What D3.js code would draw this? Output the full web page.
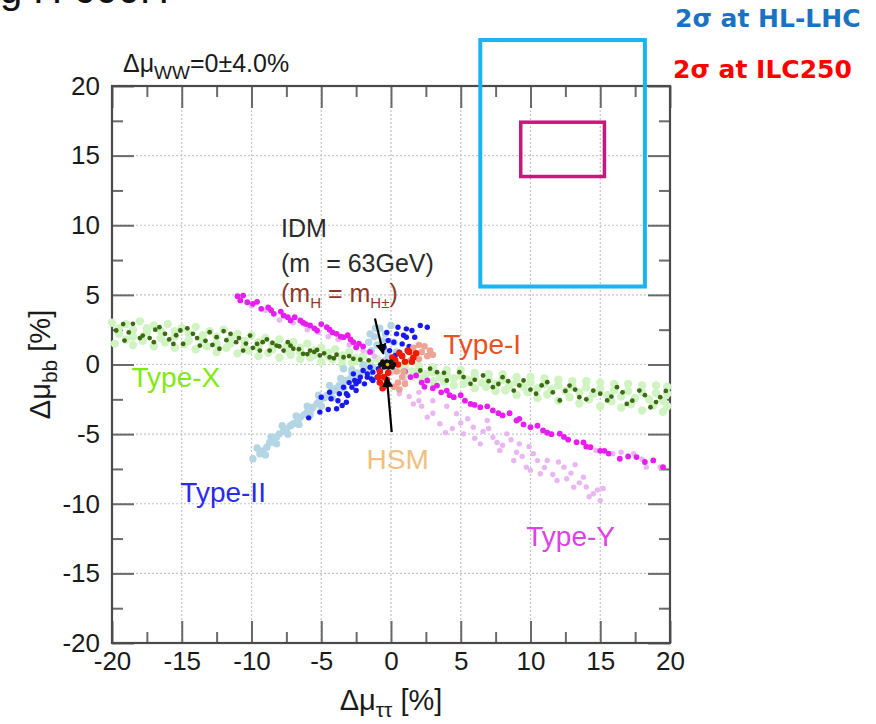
<!DOCTYPE html>
<html>
<head>
<meta charset="utf-8">
<script src="https://cdn.jsdelivr.net/npm/d3@7"></script>
<style>
  html, body { margin: 0; padding: 0; background: #fff; }
  svg { display: block; font-family: "Liberation Sans", Arial, Helvetica, sans-serif; }
</style>
</head>
<body>
<svg id="chart" width="876" height="724"></svg>
<script>
// Axis ticks (percent deviations)
const xTicks = [-20, -15, -10, -5, 0, 5, 10, 15, 20];
const yTicks = [-20, -15, -10, -5, 0, 5, 10, 15, 20];
const minorTicks = [-17.5, -12.5, -7.5, -2.5, 2.5, 7.5, 12.5, 17.5];

// 2-sigma boxes: [xMin, xMax, yMin, yMax]
const hlLhcBox = [6.4, 18.2, 5.6, 23.3];
const ilcBox = [9.3, 15.3, 13.5, 17.4];

// Type-X scan (light: full scan, dark: subset)
const typeXLight = [
  [-20,3.0],[-19,2.9],[-18,3.1],[-17,2.8],[-16,2.9],[-15,2.6],[-14,2.7],[-13,2.4],[-12,2.5],[-11,2.2],
  [-10,2.1],[-9,1.9],[-8,1.8],[-7,1.6],[-6,1.5],[-5,1.2],[-4,1.1],[-3,0.9],[-2,0.6],[-1,0.4],
  [0,0.2],[1,0.0],[2,-0.1],[3,-0.2],[4,-0.4],[5,-0.4],[6,-0.6],[7,-0.7],[8,-0.7],[9,-0.9],
  [10,-0.9],[11,-1.0],[12,-1.1],[13,-1.2],[14,-1.2],[15,-1.3],[16,-1.4],[17,-1.4],[18,-1.5],[19,-1.5],[19.8,-1.6],
  [-19.5,2.6],[-18.5,2.5],[-17.5,2.6],[-16.5,2.4],[-15.5,2.4],[-14.5,2.2],[-13.5,2.1],[-12.5,2.0],[-11.5,1.9],
  [-10.5,1.7],[-9.5,1.6],[-8.5,1.45],[-7.5,1.3],[-6.5,1.2],[-5.5,1.0],[-4.5,0.85],[-3.5,0.65],[-2.5,0.45],
  [1.0,-0.3],[2.0,-0.4],[3.0,-0.55],[4.0,-0.7],[5.0,-0.8],[6.0,-0.95],[7.0,-1.05],[8.0,-1.1],[9.0,-1.25],
  [10.0,-1.3],[11.0,-1.4],[12.0,-1.5],[13.0,-1.6],[14.0,-1.65],[15.0,-1.75],[16.0,-1.85],[17.0,-1.9],
  [18.0,-2.0],[19.0,-2.05],[19.8,-2.1],
  [-19.5,2.2],[-18.5,2.0],[-17.5,2.3],[-16.5,1.9],[-15.5,2.0],[-14.5,1.7],[-13.5,1.8],[-12.5,1.5],[-11.5,1.5],
  [-10.5,1.3],[-9.5,1.2],[-8.5,1.1],[-7.5,1.0],[-6.5,0.9],[-5.5,0.7],[-4.5,0.6],[-3.5,0.4],[-2.5,0.3],[-1.5,0.1],
  [0.5,-0.4],[1.5,-0.5],[2.5,-0.7],[3.5,-0.9],[4.5,-1.0],[5.5,-1.1],[6.5,-1.3],[7.5,-1.4],[8.5,-1.5],[9.5,-1.6],
  [10.5,-1.7],[11.5,-1.8],[12.5,-1.9],[13.5,-2.0],[14.5,-2.1],[15.5,-2.2],[16.5,-2.3],[17.5,-2.4],[18.5,-2.5],[19.5,-2.6],
  [-19,1.8],[-17.8,1.7],[-16.2,1.6],[-14.8,1.45],[-13.2,1.3],[-11.8,1.2],[-10.2,1.0],[-8.8,0.85],[-7.2,0.7],
  [-5.8,0.5],[-4.2,0.35],[-2.8,0.1],[1.0,-0.7],[2.2,-1.0],[3.8,-1.2],[5.2,-1.4],[6.8,-1.6],[8.2,-1.85],
  [9.8,-2.0],[11.2,-2.15],[12.8,-2.35],[14.2,-2.5],[15.8,-2.65],[17.2,-2.85],[18.8,-2.95],[19.8,-3.0],
  [-19.8,1.5],[-18.5,1.4],[-17,1.3],[-15.5,1.2],[-14,1.1],[-12.5,0.9],[-11,0.8],[-9.5,0.6],[-8,0.5],[-6.5,0.4],
  [-5,0.2],[-3.5,0.0],[-2,-0.1],[0,-0.5],[1.5,-0.9],[3,-1.2],[4.5,-1.5],[6,-1.7],[7.5,-1.9],[9,-2.2],
  [10.5,-2.4],[12,-2.6],[13.5,-2.8],[15,-3.0],[16.5,-3.1],[18,-3.3],[19.5,-3.4]
];
const typeXDark = [
  [-19.7,2.44],[-19.1,1.72],[-18.5,2.92],[-17.8,2.08],[-17.0,1.6],[-16.6,2.68],[-16.2,2.2],[-15.6,1.48],
  [-15.1,2.44],[-14.9,1.48],[-14.2,2.2],[-13.7,1.36],[-13.0,2.32],[-12.5,1.96],[-12.3,1.13],[-11.5,2.2],
  [-11.1,1.6],[-10.6,1.0],[-10.1,2.08],[-9.6,1.48],[-9.2,1.6],[-8.7,1.0],[-8.2,1.36],[-7.7,1.0],[-7.0,1.13],
  [-6.3,0.77],[-5.8,1.0],[-5.1,0.65],[-4.4,0.52],[-3.4,0.52],[-2.7,0.41],
  [-19.2,2.9],[-18.0,1.9],[-16.9,2.5],[-15.9,1.8],[-14.6,2.6],[-13.3,1.7],[-12.0,2.4],[-10.9,1.9],[-9.9,1.2],
  [-8.9,1.8],[-8.0,1.3],[-7.4,1.6],[-6.6,1.1],[-5.5,0.9],[-4.8,0.8],[-3.9,0.7],[-2.2,0.35],[-1.6,0.3],
  [-18.8,2.3],[-17.3,1.9],[-15.4,2.1],[-13.9,1.9],[-12.8,1.4],[-11.8,1.75],[-10.4,1.5],[-9.4,1.0],
  [-8.5,1.55],[-7.2,1.35],[-6.0,0.75],[-5.3,1.05],[-4.1,0.45],[-3.0,0.6],
  [2.1,-0.43],[3.3,-0.55],[4.0,-1.15],[4.9,-0.55],[5.7,-1.39],[6.6,-0.79],[7.3,-1.63],[8.0,-0.91],[8.8,-1.87],
  [9.5,-1.15],[10.4,-2.1],[11.2,-1.27],[12.1,-2.58],[12.8,-1.51],[13.5,-2.35],[14.5,-1.87],[15.5,-2.58],
  [16.2,-1.63],[16.9,-2.83],[17.8,-1.87],[18.6,-3.07],[19.3,-2.35],
  [2.8,-0.3],[3.8,-0.6],[5.2,-0.9],[6.0,-1.1],[7.0,-1.2],[7.7,-1.4],[8.4,-1.2],[9.2,-1.5],[10.0,-1.8],
  [10.8,-1.5],[11.6,-2.0],[12.5,-1.9],[13.2,-1.8],[14.0,-2.5],[15.0,-2.1],[15.8,-2.3],[16.6,-2.0],[17.3,-2.6],
  [18.2,-2.2],[19.0,-2.7],[19.7,-1.9]
];

// Type-Y scan
const typeYLight = [
  [-10.0,4.2],[-8.0,3.2],[-6.0,2.5],[-4.5,2.0],[-3.0,1.4],[-2.0,1.0],[-1.2,0.6],[-0.5,0.3],[0.0,-0.6],
  [0.4,-1.5],[1.0,-1.2],[1.3,-2.3],[2.0,-2.0],[2.2,-3.0],[3.0,-2.6],[0.6,-2.1],[1.6,-2.83],[2.6,-3.78],
  [3.5,-4.26],[4.7,-3.54],[5.2,-4.98],[5.9,-4.5],[6.4,-5.7],[6.9,-4.02],[7.3,-5.22],[7.8,-6.17],[8.3,-4.98],
  [8.8,-6.89],[9.2,-5.7],[9.7,-7.37],[10.2,-6.41],[10.7,-7.85],[11.2,-6.89],[11.9,-8.33],[12.4,-7.37],
  [13.1,-8.81],[13.8,-8.09],[14.5,-9.28],[15.0,-9.76],[14.7,-6.17],[15.9,-6.41],[17.4,-6.41],[18.3,-7.37],
  [19.3,-7.37],[4.0,-3.0],[4.4,-4.6],[5.5,-3.9],[6.0,-5.3],[7.0,-4.6],[7.6,-5.6],[8.6,-5.4],[9.0,-6.3],
  [9.9,-5.9],[10.5,-6.9],[11.0,-7.4],[11.6,-7.9],[12.0,-7.0],[12.9,-7.8],[13.5,-8.5],[14.0,-8.8],[14.8,-9.0],
  [3.0,-3.5],[2.0,-2.6],[16.5,-6.3],[18.0,-6.8],
  [-9.0,3.9],[-7.0,3.0],[-5.2,2.3],[-3.8,1.8],[-2.5,1.2],[-1.6,0.9],[3.9,-4.9],[5.0,-4.2],[6.6,-4.8],
  [8.0,-5.8],[9.4,-6.6],[10.0,-7.6],[12.6,-8.2],[13.2,-7.2],[14.2,-9.5],[15.2,-8.9]
];
const typeYDark = [
  [-11.0,4.9],[-10.6,4.95],[-10.3,4.47],[-9.9,4.36],[-9.3,4.0],[-8.8,4.1],[-8.4,3.64],[-7.9,3.8],[-7.7,3.52],
  [-7.2,3.16],[-6.9,3.4],[-6.5,3.16],[-6.1,2.9],[-5.8,2.8],[-5.3,2.44],[-5.0,2.9],[-4.6,2.68],[-4.2,2.3],
  [-3.9,2.2],[-3.4,1.96],[-3.1,2.1],[-2.7,1.6],[-2.5,1.24],[-2.0,1.3],[-1.5,0.9],[1.0,-0.5],[1.8,-0.79],
  [2.2,-1.3],[2.6,-1.15],[3.0,-1.7],[3.3,-1.51],[4.0,-1.87],[4.5,-2.35],[5.0,-2.2],[5.7,-2.83],[6.4,-3.07],
  [6.9,-3.0],[7.3,-3.3],[8.0,-3.66],[8.5,-3.5],[9.0,-4.02],[9.5,-4.3],[10.0,-4.5],[10.5,-4.4],[10.9,-4.74],
  [11.5,-5.0],[12.1,-4.97],[12.7,-5.4],[13.3,-5.58],[13.8,-5.6],[14.3,-5.94],[15.0,-6.2],[15.6,-6.4],
  [16.4,-6.77],[17.0,-6.6],[17.6,-6.65],[18.2,-7.0],[18.8,-6.89],[19.5,-7.37],
  [-10.8,4.6],[-9.6,4.5],[-8.6,3.9],[-7.4,3.4],[-6.3,3.0],[-5.5,2.6],[-4.4,2.5],[-3.6,2.0],[-2.9,1.8],
  [-2.3,1.5],[1.4,-0.9],[2.4,-1.6],[3.6,-2.0],[4.2,-2.2],[5.3,-2.6],[6.0,-2.9],[7.7,-3.5],[9.2,-3.9],
  [11.2,-4.9],[12.4,-5.2],[14.0,-5.9],[15.3,-6.2]
];

// Type-II scan
const typeIILight = [
  [-9.9,-6.77],[-9.4,-6.41],[-8.9,-5.94],[-8.4,-5.58],[-8.0,-4.98],[-7.5,-4.62],[-7.0,-4.26],[-6.5,-3.78],
  [-6.0,-3.42],[-5.6,-3.07],[-5.1,-2.58],[-4.6,-2.23],[-4.1,-1.87],[-3.7,-1.51],[-3.2,-1.15],[-2.7,-0.91],
  [-2.2,-0.67],[-1.7,-0.43],[-1.3,-0.19],
  [-9.0,-6.5],[-8.2,-5.7],[-7.4,-5.0],[-6.6,-4.3],[-5.8,-3.6],[-5.0,-3.0],[-4.2,-2.4],[-3.4,-1.7],[-2.5,-1.2],[-1.6,-0.8],
  [-9.6,-6.0],[-8.6,-5.2],[-7.8,-4.4],[-6.8,-3.7],[-6.0,-3.0],[-5.2,-2.2],[-4.4,-1.5],[-3.6,-1.0],[-2.8,-0.4],[-2.0,0.0],
  [-9.2,-6.2],[-8.7,-5.6],[-8.2,-5.2],[-7.7,-4.8],[-7.2,-4.4],[-6.7,-4.0],[-6.2,-3.6],[-5.7,-3.2],[-5.3,-2.8],
  [-4.8,-2.4],[-4.3,-2.0],[-3.9,-1.7],[-3.4,-1.3],[-2.9,-1.0],[-2.4,-0.6],[-1.9,-0.3],
  [-1.2,2.0],[-0.8,2.6],[-0.4,2.2],[0.0,2.8],[-1.0,1.4],[-0.5,1.0],[0.2,1.6],[-1.4,1.0],[0.4,0.9],[-1.6,1.6],
  [-0.2,0.6],[-3.4,-0.3],[-2.8,-0.6],[-1.1,2.6],[-0.6,1.7],[-1.5,2.2]
];
const typeIIDark = [
  [-5.9,-3.83],[-5.1,-3.42],[-4.5,-3.23],[-3.9,-3.18],[-3.5,-2.94],[-3.2,-2.71],[-4.3,-2.46],[-5.0,-2.35],
  [-4.4,-1.99],[-3.7,-2.1],[-3.4,-1.63],[-3.1,-2.23],[-2.8,-1.63],[-2.6,-1.15],[-2.2,-0.91],[-2.5,-1.87],
  [-1.9,-1.39],[-1.7,-0.67],[-1.4,-1.03],[-1.3,-0.55],[-1.0,-0.91],[-2.0,-0.43],[-3.2,-2.1],[-2.5,-1.39],
  [-1.7,-0.91],[-2.7,-0.67],[-1.3,-1.15],[-0.9,-0.3],[-1.5,-0.2],[-2.3,-1.2],[-3.0,-1.3],[-3.8,-2.6],
  [2.1,2.8],[1.5,2.44],[1.1,1.96],[0.8,1.48],[0.4,2.2],[0.2,1.6],[-0.1,1.0],[0.6,0.88],[-0.2,1.72],
  [-0.5,1.24],[1.1,2.56],[1.7,1.96],[0.3,0.65],[0.5,2.68],[2.6,2.68],[1.3,1.3],[0.9,2.1],[-0.3,2.3]
];

// Type-I scan
const typeILight = [
  [1.6,1.2],[2.2,0.9],[2.6,0.6],[2.0,0.4],[2.8,1.0],[1.4,0.3],[2.4,1.3],[0.4,-0.5],[0.8,-0.9],[0.5,-1.3],
  [1.0,-1.4],[0.2,-1.6],[0.9,-0.5],[0.6,-1.8],[3.0,0.7],[2.0,1.4]
];
const typeIDark = [
  [0.3,0.3],[0.8,0.6],[1.3,0.9],[1.6,0.5],[1.0,0.2],[0.5,0.0],[1.8,0.8],[1.2,1.0],[0.6,0.8],[1.5,0.2],[0.1,0.5],
  [-0.8,-0.5],[-0.5,-0.9],[-0.8,-1.3],[-0.4,-1.5],[-0.2,-0.6],[-0.9,-0.9],[-0.6,-1.7],[-0.3,-1.1]
];

// Inert doublet / singlet points near the SM
const idmPoints = [[-0.6,0.2],[-0.3,0.2],[0.0,0.2],[-0.5,-0.2],[-0.2,-0.2],[0.1,-0.2],[-0.75,0.0],[0.2,0.0],[-0.45,0.0],[-0.05,0.0]];
const hsmPoints = [[-0.25,0.0]];

// Annotation arrows: [fromX, fromY, toX, toY]
const idmArrow = [-1.15, 3.3, -0.55, 0.77];
const hsmArrow = [0.05, -4.86, -0.3, -0.91];

const svg = d3.select("#chart");
const x = d3.scaleLinear().domain([-20, 20]).range([112, 670]);
const y = d3.scaleLinear().domain([-20, 20]).range([643, 86]);
const fmt = d => String(d);

// Slide heading running off the top edge
svg.append("text").attr("x", 0).attr("y", 3)
  .attr("font-size", 40).attr("fill", "#111").text("g H 600H");

// Dotted grid
const grid = svg.append("g");
grid.selectAll("line.gx").data(xTicks.filter(v => v > -20 && v < 20)).join("line")
  .attr("x1", d => x(d)).attr("x2", d => x(d)).attr("y1", y(20)).attr("y2", y(-20))
  .attr("stroke", "#c4c4c4").attr("stroke-width", 1.2).attr("stroke-dasharray", "2,2");
grid.selectAll("line.gy").data(yTicks.filter(v => v > -20 && v < 20)).join("line")
  .attr("y1", d => y(d)).attr("y2", d => y(d)).attr("x1", x(-20)).attr("x2", x(20))
  .attr("stroke", "#c4c4c4").attr("stroke-width", 1.2).attr("stroke-dasharray", "2,2");

// Axes with inward ticks on all four sides
function styleAxis(g) {
  g.select(".domain").remove();
  g.selectAll(".tick line").attr("stroke", "#6a6a6a").attr("stroke-width", 2);
  g.selectAll(".tick text").attr("fill", "#1a1a1a").attr("font-size", 26)
    .attr("font-family", "Liberation Sans, Arial, sans-serif");
}
svg.append("g").attr("transform", `translate(0,${y(-20)})`)
  .call(d3.axisBottom(x).tickValues(xTicks).tickSize(-22).tickPadding(9).tickFormat(fmt)).call(styleAxis);
svg.append("g").attr("transform", `translate(0,${y(-20)})`)
  .call(d3.axisBottom(x).tickValues(minorTicks).tickSize(-11).tickFormat("")).call(styleAxis);
svg.append("g").attr("transform", `translate(0,${y(20)})`)
  .call(d3.axisTop(x).tickValues(xTicks).tickSize(-22).tickFormat("")).call(styleAxis);
svg.append("g").attr("transform", `translate(0,${y(20)})`)
  .call(d3.axisTop(x).tickValues(minorTicks).tickSize(-11).tickFormat("")).call(styleAxis);
svg.append("g").attr("transform", `translate(${x(-20)},0)`)
  .call(d3.axisLeft(y).tickValues(yTicks).tickSize(-22).tickPadding(12).tickFormat(fmt)).call(styleAxis);
svg.append("g").attr("transform", `translate(${x(-20)},0)`)
  .call(d3.axisLeft(y).tickValues(minorTicks).tickSize(-11).tickFormat("")).call(styleAxis);
svg.append("g").attr("transform", `translate(${x(20)},0)`)
  .call(d3.axisRight(y).tickValues(yTicks).tickSize(-22).tickFormat("")).call(styleAxis);
svg.append("g").attr("transform", `translate(${x(20)},0)`)
  .call(d3.axisRight(y).tickValues(minorTicks).tickSize(-11).tickFormat("")).call(styleAxis);

// Plot frame
svg.append("rect").attr("x", x(-20)).attr("y", y(20))
  .attr("width", x(20) - x(-20)).attr("height", y(-20) - y(20))
  .attr("fill", "none").attr("stroke", "#4a4a4a").attr("stroke-width", 2.2);

// Scatter layers
const layers = [
  { data: typeXLight, color: "#d0f3c2", r: 4.2 },
  { data: typeYLight, color: "#e9b6f3", r: 2.7 },
  { data: typeIILight, color: "#b4d6e4", r: 3.7 },
  { data: typeXDark, color: "#3d6b12", r: 2.4 },
  { data: typeYDark, color: "#e61ef0", r: 2.9 },
  { data: typeIIDark, color: "#1818f0", r: 2.7 },
  { data: typeILight, color: "#eca394", r: 3.3 },
  { data: typeIDark, color: "#ee1a00", r: 3.3 },
  { data: idmPoints, color: "#111111", r: 2.5 },
  { data: hsmPoints, color: "#f2c200", r: 1.8 }
];
layers.forEach(l => {
  svg.append("g").selectAll("circle").data(l.data).join("circle")
    .attr("cx", d => x(d[0])).attr("cy", d => y(d[1])).attr("r", l.r).attr("fill", l.color);
});

// Arrow markers
const defs = svg.append("defs");
defs.append("marker").attr("id", "head").attr("viewBox", "0 0 10 10")
  .attr("refX", 9).attr("refY", 5).attr("markerWidth", 5).attr("markerHeight", 5)
  .attr("markerUnits", "strokeWidth").attr("orient", "auto")
  .append("path").attr("d", "M0,0 L10,5 L0,10 z").attr("fill", "#000");
[idmArrow, hsmArrow].forEach(a => {
  svg.append("line").attr("x1", x(a[0])).attr("y1", y(a[1])).attr("x2", x(a[2])).attr("y2", y(a[3]))
    .attr("stroke", "#000").attr("stroke-width", 2.2).attr("marker-end", "url(#head)");
});

// 2-sigma boxes
svg.append("rect").attr("x", x(hlLhcBox[0])).attr("y", y(hlLhcBox[3]))
  .attr("width", x(hlLhcBox[1]) - x(hlLhcBox[0])).attr("height", y(hlLhcBox[2]) - y(hlLhcBox[3]))
  .attr("fill", "none").attr("stroke", "#1ab4f0").attr("stroke-width", 4);
svg.append("rect").attr("x", x(ilcBox[0])).attr("y", y(ilcBox[3]))
  .attr("width", x(ilcBox[1]) - x(ilcBox[0])).attr("height", y(ilcBox[2]) - y(ilcBox[3]))
  .attr("fill", "none").attr("stroke", "#c8187e").attr("stroke-width", 3.5);

// Model labels
const labels = [
  { t: "Type-X", px: -18.6, py: -1.63, c: "#80ea10" },
  { t: "Type-II", px: -15.1, py: -9.9, c: "#2a2af0" },
  { t: "Type-I", px: 3.75, py: 0.75, c: "#e8501e" },
  { t: "Type-Y", px: 9.7, py: -13.0, c: "#e040e8" },
  { t: "HSM", px: -1.75, py: -7.5, c: "#f0c080" }
];
svg.append("g").selectAll("text").data(labels).join("text")
  .attr("x", d => x(d.px)).attr("y", d => y(d.py)).attr("font-size", 28)
  .attr("fill", d => d.c).text(d => d.t);

// IDM annotation
const idm = svg.append("g").attr("font-size", 25);
idm.append("text").attr("x", 281).attr("y", 237).attr("fill", "#2a2a2a").text("IDM");
const l2 = idm.append("text").attr("x", 281).attr("y", 272).attr("fill", "#2a2a2a");
l2.append("tspan").text("(m");
l2.append("tspan").attr("dx", 16).text("= 63GeV)");
const l3 = idm.append("text").attr("x", 281).attr("y", 302).attr("fill", "#8b3a2a");
l3.append("tspan").text("(m");
l3.append("tspan").attr("font-size", 15).attr("dy", 6).text("H");
l3.append("tspan").attr("dy", -6).text(" = m");
l3.append("tspan").attr("font-size", 15).attr("dy", 6).text("H±");
l3.append("tspan").attr("dy", -6).text(")");

// Panel title
const title = svg.append("text").attr("x", 123).attr("y", 72).attr("font-size", 25).attr("fill", "#1a1a1a");
title.append("tspan").text("Δμ");
title.append("tspan").attr("font-size", 19).attr("dy", 7).text("WW");
title.append("tspan").attr("dy", -7).text("=0±4.0%");

// Axis titles
const xl = svg.append("text").attr("x", x(0)).attr("y", 710).attr("text-anchor", "middle")
  .attr("font-size", 29).attr("fill", "#1a1a1a");
xl.append("tspan").text("Δμ");
xl.append("tspan").attr("font-size", 21).attr("dy", 7).text("ττ");
xl.append("tspan").attr("dy", -7).text(" [%]");
const yl = svg.append("text").attr("transform", `translate(50,${y(0)}) rotate(-90)`)
  .attr("text-anchor", "middle").attr("font-size", 29).attr("fill", "#1a1a1a");
yl.append("tspan").text("Δμ");
yl.append("tspan").attr("font-size", 21).attr("dy", 7).text("bb");
yl.append("tspan").attr("dy", -7).text(" [%]");

// Legend for the boxes
svg.append("text").attr("x", 675).attr("y", 27).attr("font-size", 25).attr("font-weight", "bold")
  .attr("font-family", "DejaVu Sans, Verdana, sans-serif").attr("fill", "#1a72c2").text("2σ at HL-LHC");
svg.append("text").attr("x", 673).attr("y", 78).attr("font-size", 25).attr("font-weight", "bold")
  .attr("font-family", "DejaVu Sans, Verdana, sans-serif").attr("fill", "#ff0000").text("2σ at ILC250");
</script>
</body>
</html>
